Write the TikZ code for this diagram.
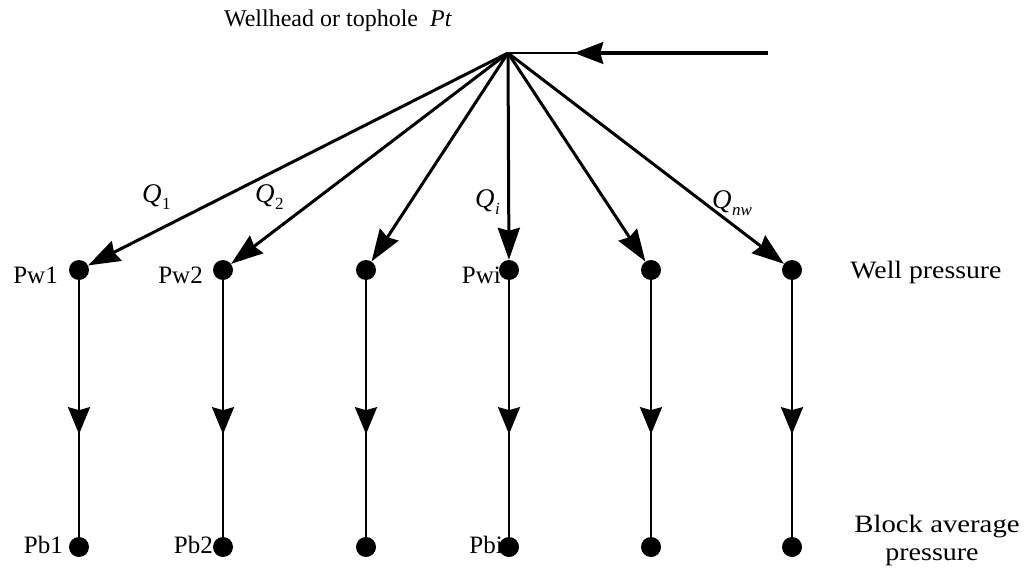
\documentclass[tikz,border=0pt]{standalone}
\usepackage{fontspec}
\setmainfont{Liberation Serif}
\usetikzlibrary{arrows.meta,decorations.markings}
\newcommand{\Qlab}[1]{\textit{Q}\kern0.5pt\raisebox{-7pt}{\fontsize{17}{17}\selectfont #1}}
\begin{document}
\begin{tikzpicture}[x=1pt,y=-1pt,
  dot/.style={circle, fill=black, inner sep=0pt, minimum size=20pt},
  flow/.style={line width=3pt, -{Stealth[length=32pt,width=22pt,inset=3pt]}},
  vline/.style={line width=2.4pt, postaction=decorate,
    decoration={markings, mark=at position 0.6 with {\arrow{Stealth[length=27pt,width=22pt,inset=3pt]}}}},
  hline/.style={line width=2.2pt, postaction=decorate,
    decoration={markings, mark=at position 0.745 with {\arrow{Stealth[length=29pt,width=22pt,inset=3pt]}}}},
  lbl/.style={font=\fontsize{25}{28}\selectfont, inner sep=0pt},
  qlbl/.style={font=\fontsize{27}{30}\selectfont, inner sep=0pt}]
\path[use as bounding box, fill=white] (0,0) rectangle (1028,578);

% top point and inflow
\coordinate (top) at (508,53);
\coordinate (src) at (768,53);
\coordinate (hb) at (598,53);
\draw[hline] (src) -- (top);
\draw[line width=4.5pt] (src) -- (hb);

% well and block nodes
\foreach \i/\x in {1/79,2/223,3/366,4/509,5/651,6/792}{
  \node[dot] (w\i) at (\x,270) {};
  \node[dot] (b\i) at (\x,547) {};
}
\foreach \i in {1,...,6}{
  \draw[flow] (top) -- (w\i);
  \draw[vline] (w\i) -- (b\i);
}

% labels
\node[lbl, anchor=base] (wh) at (338,27) {\fontsize{24}{28}\selectfont Wellhead or tophole\ \ \textit{Pt}};
\node[lbl, anchor=base east] (pw1) at (58,283) {Pw1};
\node[lbl, anchor=base east] (pw2) at (203,283) {Pw2};
\node[lbl, anchor=base east] (pwi) at (501,283) {Pwi};
\node[lbl, anchor=base east] (pb1) at (63,553) {Pb1};
\node[lbl, anchor=base east] (pb2) at (213,553) {Pb2};
\node[lbl, anchor=base east] (pbi) at (503,553) {Pbi};
\node[lbl, anchor=base] (wp) at (926,278) {\scalebox{1.11}[1]{Well pressure}};
\node[lbl, anchor=base] (bap) at (937,532) {\scalebox{1.15}[1]{Block average}};
\node[lbl, anchor=base] (bap2) at (932,560) {\scalebox{1.12}[1]{pressure}};

\node[qlbl, anchor=base west] (q1) at (142,202) {\Qlab{1}};
\node[qlbl, anchor=base west] (q2) at (255,202) {\Qlab{2}};
\node[qlbl, anchor=base west] (qi) at (475,207) {\Qlab{\textit{i}}};
\node[qlbl, anchor=base west] (qnw) at (712,208) {\Qlab{\textit{nw}}};
\end{tikzpicture}
\end{document}
